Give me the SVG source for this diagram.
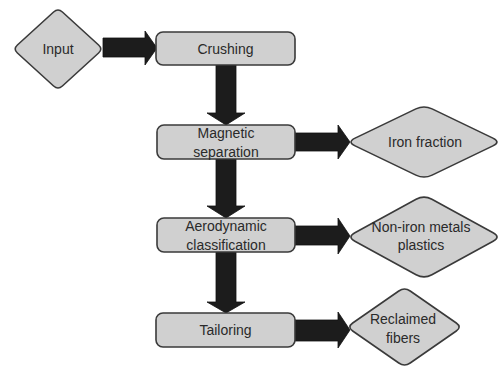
<svg xmlns="http://www.w3.org/2000/svg" width="503" height="367" viewBox="0 0 503 367">
<style>
.box{fill:#d0d0d0;stroke:#3a3a3a;stroke-width:1.6;stroke-linejoin:round}
.arr{fill:#1c1c1c;stroke:#111;stroke-width:0.8;stroke-linejoin:miter}
text{font-family:"Liberation Sans",Arial,sans-serif;font-size:14px;fill:#2a2a2a;text-anchor:middle;dominant-baseline:central}
</style>
<rect width="503" height="367" fill="#ffffff"/>
<g id="connectors">
<polygon class="arr" points="103,38 145,38 145,31 157,48 145,65 145,57 103,57"/>
<polygon class="arr" points="216,65 236,65 236,113 245,113 226,125 207,113 216,113"/>
<polygon class="arr" points="216,159 236,159 236,206 245,206 226,218 207,206 216,206"/>
<polygon class="arr" points="216,252 236,252 236,302 245,302 226,313 207,302 216,302"/>
<polygon class="arr" points="295,133 338,133 338,125 350,142 338,159 338,151 295,151"/>
<polygon class="arr" points="295,226 338,226 338,218 350,236 338,254 338,245 295,245"/>
<polygon class="arr" points="295,320 338,320 338,312 350,330 338,348 338,341 295,341"/>
</g>
<g id="input">
<path class="box" d="M17.4,45 L53.6,12 Q58,8 62.4,12 L98.6,45 Q103,49 98.6,53 L62.4,86 Q58,90 53.6,86 L17.4,53 Q13,49 17.4,45 Z"/>
<text x="58" y="49">Input</text>
</g>
<g id="crushing">
<rect class="box" x="156" y="32" width="139" height="33" rx="7"/>
<text x="225.5" y="48.5">Crushing</text>
</g>
<g id="magnetic">
<rect class="box" x="157" y="125" width="138" height="34" rx="7"/>
<text x="226" y="133">Magnetic</text>
<text x="226" y="152">separation</text>
</g>
<g id="aerodynamic">
<rect class="box" x="157" y="218" width="138" height="34" rx="7"/>
<text x="226" y="226">Aerodynamic</text>
<text x="226" y="245">classification</text>
</g>
<g id="tailoring">
<rect class="box" x="156" y="313" width="139" height="34" rx="7"/>
<text x="225.5" y="330">Tailoring</text>
</g>
<g id="iron">
<path class="box" d="M355.1,138.1 L415.9,108.9 Q424,105 432.1,108.9 L492.9,138.1 Q501,142 492.9,145.9 L432.1,175.1 Q424,179 415.9,175.1 L355.1,145.9 Q347,142 355.1,138.1 Z"/>
<text x="425" y="142">Iron fraction</text>
</g>
<g id="noniron">
<path class="box" d="M354.9,232.7 L416.1,199.3 Q424,195 431.9,199.3 L493.1,232.7 Q501,237 493.1,241.3 L431.9,274.7 Q424,279 416.1,274.7 L354.9,241.3 Q347,237 354.9,232.7 Z"/>
<text x="421" y="227">Non-iron metals</text>
<text x="421" y="245">plastics</text>
</g>
<g id="reclaimed">
<path class="box" d="M352.7,323 L398.8,291 Q404.5,287 410.2,291 L456.3,323 Q462,327 456.3,331 L410.2,363 Q404.5,367 398.8,363 L352.7,331 Q347,327 352.7,323 Z"/>
<text x="403" y="319">Reclaimed</text>
<text x="403" y="338">fibers</text>
</g>
</svg>
